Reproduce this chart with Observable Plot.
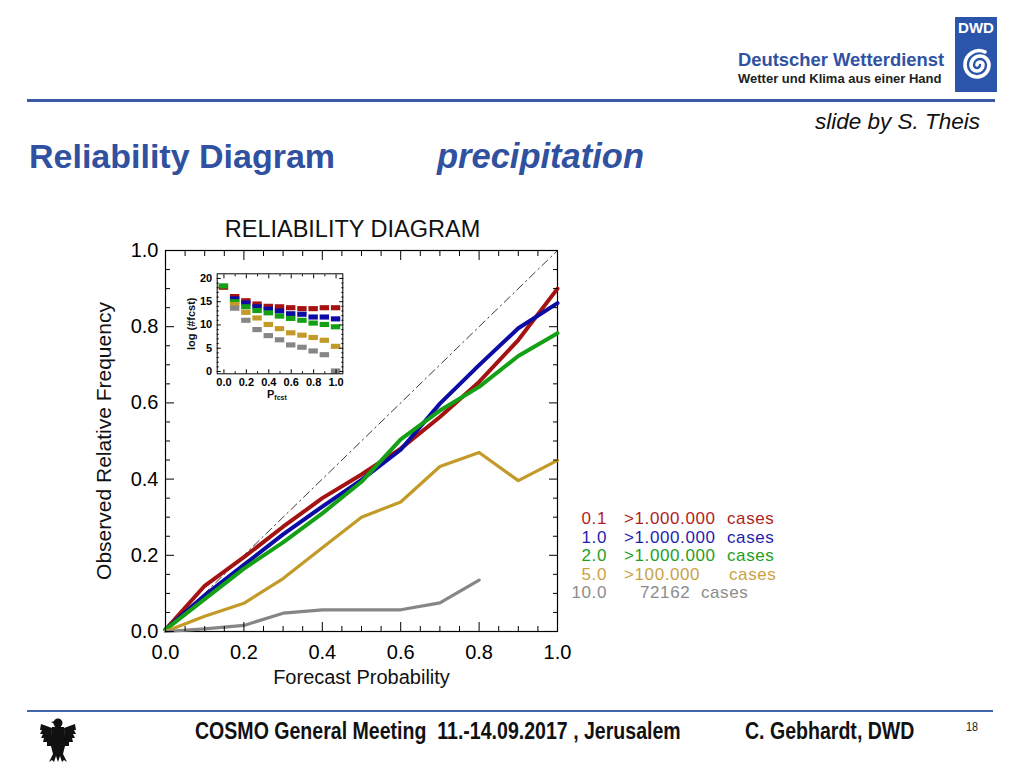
<!DOCTYPE html>
<html><head><meta charset="utf-8">
<script src="https://cdn.jsdelivr.net/npm/d3@7"></script>
<script src="https://cdn.jsdelivr.net/npm/@observablehq/plot@0.6"></script>
<style>
body{margin:0;background:#fff;}
#page{position:relative;width:1024px;height:768px;overflow:hidden;font-family:"Liberation Sans",Arial,sans-serif;background:#fff;}
.abs{position:absolute;white-space:nowrap;line-height:1;}
svg{overflow:visible;}
</style></head><body><div id="page"></div>
<script>
// ---------- data ----------
const probs = [0.0, 0.1, 0.2, 0.3, 0.4, 0.5, 0.6, 0.7, 0.8, 0.9, 1.0];
const thresholds = ["0.1", "1.0", "2.0", "5.0", "10.0"];
const caseCounts = [">1.000.000", ">1.000.000", ">1.000.000", ">100.000", "72162"];
const lineColors = ["#a51212", "#0c0ca5", "#14a014", "#c39a28", "#868686"];
const textColors = ["#b01e1e", "#1e1eb0", "#1ea01e", "#c9a245", "#8c8c8c"];
const lineWidths = [4, 4, 4, 3.2, 3.2];

// observed relative frequency per forecast probability bin
const freq01  = [0.005, 0.12, 0.195, 0.275, 0.35, 0.412, 0.48, 0.563, 0.655, 0.765, 0.90];
const freq10  = [0.005, 0.095, 0.175, 0.255, 0.328, 0.398, 0.477, 0.598, 0.699, 0.796, 0.862];
const freq20  = [0.005, 0.085, 0.165, 0.234, 0.31, 0.393, 0.504, 0.58, 0.642, 0.723, 0.783];
const freq50  = [0.0, 0.04, 0.074, 0.139, 0.22, 0.30, 0.34, 0.433, 0.47, 0.396, 0.449];
const freq100 = [0.0, 0.007, 0.016, 0.048, 0.057, 0.057, 0.057, 0.075, 0.135, null, null];

// inset: log(#fcst) per bin
const nf01  = [18.0, 16.0, 15.1, 14.4, 13.9, 13.8, 13.6, 13.4, 13.4, 13.6, 13.6];
const nf10  = [null, 15.5, 14.6, 13.8, 13.3, 12.9, 12.3, 12.2, 11.6, 11.6, 11.2];
const nf20  = [18.3, 14.9, 13.8, 13.0, 12.5, 11.8, 11.3, 10.9, 10.3, 10.0, 9.5];
const nf50  = [null, 14.3, 12.6, 11.4, 10.0, 9.1, 8.2, 7.7, 7.2, 6.6, 5.3];
const nf100 = [null, 13.5, 10.9, 8.9, 7.6, 6.7, 5.6, 5.1, 4.3, 3.5, 0.0];

const freqSeries = [freq01, freq10, freq20, freq50, freq100];
const countSeries = [nf01, nf10, nf20, nf50, nf100];

const majorTicks = [0.0, 0.2, 0.4, 0.6, 0.8, 1.0];
const minorTicks = [0.05,0.1,0.15,0.25,0.3,0.35,0.45,0.5,0.55,0.65,0.7,0.75,0.85,0.9,0.95];
const diagonal = [0, 1];
const insetYTicks = [0, 5, 10, 15, 20];
const insetYMinor = [1,2,3,4,6,7,8,9,11,12,13,14,16,17,18,19];
const insetXMinor = [0.1, 0.3, 0.5, 0.7, 0.9];

// ---------- helpers ----------
const page = document.getElementById("page");
function put(html, css) {
  const d = document.createElement("div");
  d.className = "abs";
  d.innerHTML = html;
  Object.assign(d.style, css);
  page.appendChild(d);
  return d;
}
const fmt = d3.format(".1f");

// ---------- slide frame ----------
put("Deutscher Wetterdienst", {left:"738px", top:"51px", fontSize:"18.4px", fontWeight:"bold", color:"#2f52a2"});
put("Wetter und Klima aus einer Hand", {left:"738px", top:"72px", fontSize:"13px", fontWeight:"bold", color:"#222"});
put(`<svg width="42" height="75" viewBox="0 0 42 75">
  <rect x="0" y="0" width="42" height="75" fill="#2b55ab"/>
  <text x="21" y="16" fill="#fff" font-family="Liberation Sans" font-weight="bold" font-size="15" text-anchor="middle">DWD</text>
  <path d="M22,48 a3,3 0 0 1 6,0 a6,6 0 0 1 -12,0 a9,9 0 0 1 18,0 a12,12 0 0 1 -24,0 a14,14 0 0 1 20,-13" fill="none" stroke="#fff" stroke-width="3.6" stroke-linecap="round"/>
</svg>`, {left:"955px", top:"17px"});
put("", {left:"27px", top:"99px", width:"968px", height:"3px", background:"#3b5ba6"});
put("slide by S. Theis", {left:"815px", top:"111px", fontSize:"22.5px", fontStyle:"italic", color:"#111"});
put("Reliability Diagram", {left:"29px", top:"139px", fontSize:"34px", fontWeight:"bold", color:"#3050a0"});
put("precipitation", {left:"437px", top:"139px", fontSize:"34.5px", fontWeight:"bold", fontStyle:"italic", color:"#3050a0"});

const footCss = {top:"720px", fontSize:"23px", fontWeight:"bold", color:"#111", transform:"scaleX(0.85)", transformOrigin:"left top"};
put("", {left:"27px", top:"710px", width:"966px", height:"2px", background:"#4464ae"});
put("COSMO General Meeting&nbsp; 11.-14.09.2017 , Jerusalem", {...footCss, left:"195px"});
put("C. Gebhardt, DWD", {...footCss, left:"745px"});
put("18", {left:"966px", top:"721px", fontSize:"12px", color:"#222", transform:"scaleX(0.9)", transformOrigin:"left top"});
put(`<svg width="40" height="48" viewBox="0 0 40 48">
  <g fill="#111">
    <circle cx="20" cy="7" r="4.5"/>
    <path d="M17,5 l-4,1 l4,2z"/>
    <path d="M14,11 L26,11 L28,30 L12,30 Z"/>
    <path d="M14,12 L3,8 L2,14 L4,14 L2,18 L5,18 L3,22 L6,22 L5,26 L9,26 L9,30 L13,30 Z"/>
    <path d="M26,12 L37,8 L38,14 L36,14 L38,18 L35,18 L37,22 L34,22 L35,26 L31,26 L31,30 L27,30 Z"/>
    <path d="M13,30 L27,30 L25,38 L15,38 Z"/>
    <path d="M15,38 L11,46 L14,44 L16,46 L18,40 L20,46 L22,40 L24,46 L26,44 L29,46 L25,38 Z"/>
  </g>
</svg>`, {left:"38px", top:"716px"});

// ---------- main chart ----------
const mainMarks = [
  Plot.frame({stroke:"#000", strokeWidth:1.2}),
  Plot.line(diagonal, {x:d=>d, y:d=>d, stroke:"#222", strokeWidth:0.9, strokeDasharray:"8,4,1.5,4"})
];
freqSeries.forEach((vals, i) => {
  const rows = probs.map((p, j) => ({p, v: vals[j]})).filter(d => d.v != null);
  mainMarks.push(Plot.line(rows, {x:"p", y:"v", stroke:lineColors[i], strokeWidth:lineWidths[i], strokeLinejoin:"round"}));
});
const noLab = () => "";
for (const a of ["bottom", "top"]) {
  mainMarks.push(Plot.axisX(minorTicks, {anchor:a, tickSize:-5, tickFormat:noLab, label:null}));
  mainMarks.push(Plot.axisX(majorTicks, {anchor:a, tickSize:-9, tickFormat:noLab, label:null}));
}
for (const a of ["left", "right"]) {
  mainMarks.push(Plot.axisY(minorTicks, {anchor:a, tickSize:-5, tickFormat:noLab, label:null}));
  mainMarks.push(Plot.axisY(majorTicks, {anchor:a, tickSize:-9, tickFormat:noLab, label:null}));
}
mainMarks.push(Plot.axisX(majorTicks, {anchor:"bottom", tickSize:0, tickPadding:13, tickFormat:fmt, label:null, fontSize:20}));
mainMarks.push(Plot.axisY(majorTicks, {anchor:"left", tickSize:0, tickPadding:7, tickFormat:fmt, label:null, fontSize:20}));
mainMarks.push(Plot.text(["RELIABILITY DIAGRAM"], {frameAnchor:"top", dx:-9, dy:-30, fontSize:23.5, fill:"#111"}));
mainMarks.push(Plot.text(["Forecast Probability"], {frameAnchor:"bottom", dy:52, fontSize:20, fill:"#111"}));
mainMarks.push(Plot.text(["Observed Relative Frequency"], {frameAnchor:"left", textAnchor:"middle", dx:-61, rotate:-90, fontSize:21, fill:"#111"}));

const mainPlot = Plot.plot({
  width:520, height:500,
  marginLeft:85, marginRight:43, marginTop:50, marginBottom:69,
  x:{domain:[0,1]}, y:{domain:[0,1]},
  style:{fontFamily:"'Liberation Sans',sans-serif", background:"transparent", color:"#000", overflow:"visible"},
  marks: mainMarks
});
put("", {left:"80px", top:"200px"}).appendChild(mainPlot);

// ---------- inset ----------
const insetMarks = [];
countSeries.forEach((vals, i) => {
  const rows = probs.map((p, j) => ({p, v: vals[j]})).filter(d => d.v != null);
  insetMarks.push(Plot.rect(rows, {x1:d=>d.p-0.042, x2:d=>d.p+0.042, y1:d=>d.v-0.55, y2:d=>d.v+0.55, fill:lineColors[i]}));
});
insetMarks.push(Plot.frame({stroke:"#000", strokeWidth:1}));
for (const a of ["bottom", "top"]) {
  insetMarks.push(Plot.axisX(insetXMinor, {anchor:a, tickSize:-2, tickFormat:noLab, label:null}));
  insetMarks.push(Plot.axisX(majorTicks, {anchor:a, tickSize:-4, tickFormat:noLab, label:null}));
}
for (const a of ["left", "right"]) {
  insetMarks.push(Plot.axisY(insetYMinor, {anchor:a, tickSize:-2, tickFormat:noLab, label:null}));
  insetMarks.push(Plot.axisY(insetYTicks, {anchor:a, tickSize:-4, tickFormat:noLab, label:null}));
}
insetMarks.push(Plot.axisX(majorTicks, {anchor:"bottom", tickSize:0, tickPadding:4, tickFormat:fmt, label:null, fontSize:11, fontWeight:"bold"}));
insetMarks.push(Plot.axisY(insetYTicks, {anchor:"left", tickSize:0, tickPadding:5, label:null, fontSize:11, fontWeight:"bold"}));
insetMarks.push(Plot.text(["log (#fcst)"], {frameAnchor:"left", textAnchor:"middle", dx:-26, rotate:-90, fontSize:11, fontWeight:"bold", fill:"#111"}));

const insetPlot = Plot.plot({
  width:175, height:140,
  marginLeft:41.7, marginRight:7.7, marginTop:8.3, marginBottom:31.7,
  x:{domain:[-0.06,1.06]}, y:{domain:[-0.5,21]},
  style:{fontFamily:"'Liberation Sans',sans-serif", background:"transparent", color:"#000", overflow:"visible"},
  marks: insetMarks
});
put("", {left:"175px", top:"265px"}).appendChild(insetPlot);
put("P<sub style='font-size:7px;vertical-align:-2px'>fcst</sub>", {left:"267px", top:"389px", fontSize:"11px", fontWeight:"bold", color:"#111"});

// ---------- legend ----------
const rowY = [510, 528.5, 547, 565.5, 584];
thresholds.forEach((t, i) => {
  const c = textColors[i];
  const css = {top:rowY[i]+"px", fontSize:"17px", color:c, letterSpacing:"0.6px"};
  put(t, {...css, left:"540px", width:"67px", textAlign:"right"});
  if (caseCounts[i].startsWith(">")) {
    put(caseCounts[i], {...css, left:"624px"});
    put("cases", {...css, left:(i === 3 ? 729 : 727)+"px"});
  } else {
    put(caseCounts[i] + "&nbsp; cases", {...css, left:"640px"});
  }
});
</script></body></html>
